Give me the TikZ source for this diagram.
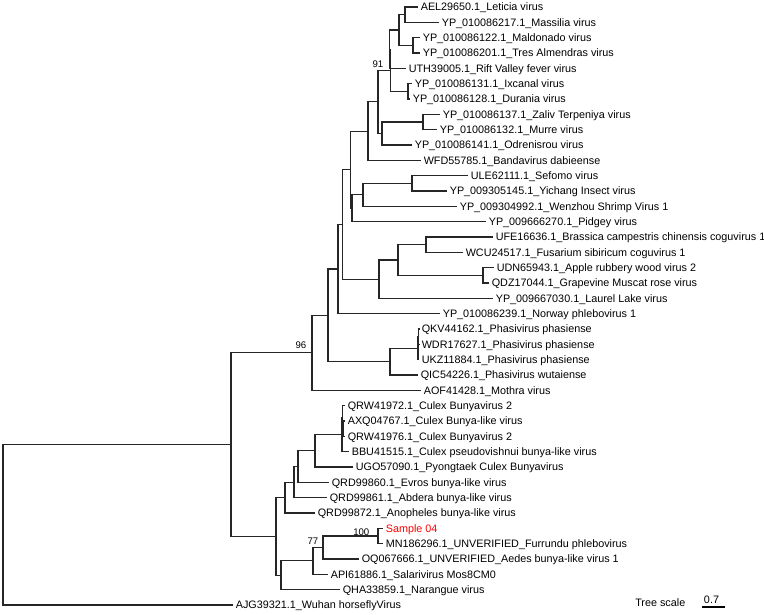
\documentclass[tikz,border=0pt]{standalone}
\usepackage{fontspec}
\setmainfont{Liberation Sans}
\begin{document}
\begin{tikzpicture}[x=1pt,y=-1pt,
  br/.style={draw=black!85, line width=1.1pt},
  lf/.style={anchor=west, inner xsep=2.6pt, inner ysep=0pt, text height=7.8pt, text depth=0pt, font=\fontsize{10.8}{12}\selectfont},
  bs/.style={anchor=east, inner sep=0pt, text height=6.8pt, text depth=0pt, font=\fontsize{9.6}{11}\selectfont}]
\useasboundingbox[fill=white] (0,0) rectangle (764,615);
% internal nodes
\coordinate (R) at (3,524.8);
\coordinate (A) at (231,444.6);
\coordinate (B) at (312,352.8);
\coordinate (E) at (328,315.3);
\coordinate (F) at (338,269.0);
\coordinate (G) at (342.5,224.4);
\coordinate (h350) at (350.5,169.7);
\coordinate (h368) at (368,131.1);
\coordinate (h378) at (378,101.9);
\coordinate (b390) at (390.6,70.2);
\coordinate (a390) at (389.4,49.2);
\coordinate (h399) at (399,30.0);
\coordinate (h405) at (405,14.7);
\coordinate (h413) at (413,45.3);
\coordinate (h408) at (408,91.3);
\coordinate (h382) at (382,133.5);
\coordinate (h423) at (423,122.0);
\coordinate (h352) at (352,208.2);
\coordinate (h363) at (363,194.8);
\coordinate (h412) at (412,183.3);
\coordinate (h379) at (379,279.2);
\coordinate (h398) at (398,260.0);
\coordinate (h426) at (426,244.6);
\coordinate (h483) at (483,275.3);
\coordinate (p390) at (390,361.6);
\coordinate (p418) at (418,348.2);
\coordinate (p419) at (418.6,336.7);
\coordinate (C) at (276,536.4);
\coordinate (c285) at (285,497.5);
\coordinate (c294) at (294,482.1);
\coordinate (c298) at (298,466.5);
\coordinate (c315) at (315,450.7);
\coordinate (c342) at (342,434.4);
\coordinate (c342b) at (342.7,417.1);
\coordinate (c343) at (343.4,428.6);
\coordinate (c281) at (281,575.3);
\coordinate (c313) at (313,560.9);
\coordinate (c323) at (323,547.5);
\coordinate (c378) at (378,536.0);
% leaves
\coordinate (L1) at (418,7.0);   \node[lf] (T1) at (L1) {AEL29650.1\_Leticia virus};
\coordinate (L2) at (439,22.3);  \node[lf] (T2) at (L2) {YP\_010086217.1\_Massilia virus};
\coordinate (L3) at (420,37.7);  \node[lf] (T3) at (L3) {YP\_010086122.1\_Maldonado virus};
\coordinate (L4) at (420,53.0);  \node[lf] (T4) at (L4) {YP\_010086201.1\_Tres Almendras virus};
\coordinate (L5) at (406,68.3);  \node[lf] (T5) at (L5) {UTH39005.1\_Rift Valley fever virus};
\coordinate (L6) at (412,83.7);  \node[lf] (T6) at (L6) {YP\_010086131.1\_Ixcanal virus};
\coordinate (L7) at (410,99.0);  \node[lf] (T7) at (L7) {YP\_010086128.1\_Durania virus};
\coordinate (L8) at (440,114.3); \node[lf] (T8) at (L8) {YP\_010086137.1\_Zaliv Terpeniya virus};
\coordinate (L9) at (437,129.6); \node[lf] (T9) at (L9) {YP\_010086132.1\_Murre virus};
\coordinate (L10) at (412,145.0); \node[lf] (T10) at (L10) {YP\_010086141.1\_Odrenisrou virus};
\coordinate (L11) at (421,160.3); \node[lf] (T11) at (L11) {WFD55785.1\_Bandavirus dabieense};
\coordinate (L12) at (468,175.6); \node[lf] (T12) at (L12) {ULE62111.1\_Sefomo virus};
\coordinate (L13) at (447,191.0); \node[lf] (T13) at (L13) {YP\_009305145.1\_Yichang Insect virus};
\coordinate (L14) at (457,206.3); \node[lf] (T14) at (L14) {YP\_009304992.1\_Wenzhou Shrimp Virus 1};
\coordinate (L15) at (486,221.6); \node[lf] (T15) at (L15) {YP\_009666270.1\_Pidgey virus};
\coordinate (L16) at (493,237.0); \node[lf] (T16) at (L16) {UFE16636.1\_Brassica campestris chinensis coguvirus 1};
\coordinate (L17) at (463,252.3); \node[lf] (T17) at (L17) {WCU24517.1\_Fusarium sibiricum coguvirus 1};
\coordinate (L18) at (494,267.6); \node[lf] (T18) at (L18) {UDN65943.1\_Apple rubbery wood virus 2};
\coordinate (L19) at (489,283.0); \node[lf] (T19) at (L19) {QDZ17044.1\_Grapevine Muscat rose virus};
\coordinate (L20) at (493,298.3); \node[lf] (T20) at (L20) {YP\_009667030.1\_Laurel Lake virus};
\coordinate (L21) at (440,313.6); \node[lf] (T21) at (L21) {YP\_010086239.1\_Norway phlebovirus 1};
\coordinate (L22) at (419,329.0); \node[lf] (T22) at (L22) {QKV44162.1\_Phasivirus phasiense};
\coordinate (L23) at (419,344.3); \node[lf] (T23) at (L23) {WDR17627.1\_Phasivirus phasiense};
\coordinate (L24) at (419,359.6); \node[lf] (T24) at (L24) {UKZ11884.1\_Phasivirus phasiense};
\coordinate (L25) at (418,375.0); \node[lf] (T25) at (L25) {QIC54226.1\_Phasivirus wutaiense};
\coordinate (L26) at (421,390.3); \node[lf] (T26) at (L26) {AOF41428.1\_Mothra virus};
\coordinate (L27) at (345,405.6); \node[lf] (T27) at (L27) {QRW41972.1\_Culex Bunyavirus 2};
\coordinate (L28) at (345,421.0); \node[lf] (T28) at (L28) {AXQ04767.1\_Culex Bunya-like virus};
\coordinate (L29) at (345,436.3); \node[lf] (T29) at (L29) {QRW41976.1\_Culex Bunyavirus 2};
\coordinate (L30) at (349,451.6); \node[lf] (T30) at (L30) {BBU41515.1\_Culex pseudovishnui bunya-like virus};
\coordinate (L31) at (353,467.0); \node[lf] (T31) at (L31) {UGO57090.1\_Pyongtaek Culex Bunyavirus};
\coordinate (L32) at (329,482.3); \node[lf] (T32) at (L32) {QRD99860.1\_Evros bunya-like virus};
\coordinate (L33) at (327,497.6); \node[lf] (T33) at (L33) {QRD99861.1\_Abdera bunya-like virus};
\coordinate (L34) at (315,513.0); \node[lf] (T34) at (L34) {QRD99872.1\_Anopheles bunya-like virus};
\coordinate (L35) at (383,528.3); \node[lf, text=red] (T35) at (L35) {Sample 04};
\coordinate (L36) at (383,543.6); \node[lf] (T36) at (L36) {MN186296.1\_UNVERIFIED\_Furrundu phlebovirus};
\coordinate (L37) at (359,559.0); \node[lf] (T37) at (L37) {OQ067666.1\_UNVERIFIED\_Aedes bunya-like virus 1};
\coordinate (L38) at (328,574.3); \node[lf] (T38) at (L38) {API61886.1\_Salarivirus Mos8CM0};
\coordinate (L39) at (340,589.6); \node[lf] (T39) at (L39) {QHA33859.1\_Narangue virus};
\coordinate (L40) at (233,605.0); \node[lf] (T40) at (L40) {AJG39321.1\_Wuhan horseflyVirus};
% branches
\draw[br] (R) |- (A) (R) |- (L40)
 (A) |- (B) (A) |- (C)
 (B) |- (E) (B) |- (L26)
 (E) |- (F) (E) |- (p390)
 (F) |- (G) (F) |- (L21)
 (G) |- (h350) (G) |- (h379)
 (h350) |- (h368) (h350) |- (h352)
 (h368) |- (h378) (h368) |- (L11)
 (h378) |- (b390) (h378) |- (h382)
 (b390) |- (a390) (b390) |- (h408)
 (a390) |- (h399) (a390) |- (L5)
 (h399) |- (h405) (h399) |- (h413)
 (h405) |- (L1) (h405) |- (L2)
 (h413) |- (L3) (h413) |- (L4)
 (h408) |- (L6) (h408) |- (L7)
 (h382) |- (h423) (h382) |- (L10)
 (h423) |- (L8) (h423) |- (L9)
 (h352) |- (h363) (h352) |- (L15)
 (h363) |- (h412) (h363) |- (L14)
 (h412) |- (L12) (h412) |- (L13)
 (h379) |- (h398) (h379) |- (L20)
 (h398) |- (h426) (h398) |- (h483)
 (h426) |- (L16) (h426) |- (L17)
 (h483) |- (L18) (h483) |- (L19)
 (p390) |- (p418) (p390) |- (L25)
 (p418) |- (p419) (p418) |- (L24)
 (p419) |- (L22) (p419) |- (L23)
 (C) |- (c285) (C) |- (c281)
 (c285) |- (c294) (c285) |- (L34)
 (c294) |- (c298) (c294) |- (L33)
 (c298) |- (c315) (c298) |- (L32)
 (c315) |- (c342) (c315) |- (L31)
 (c342) |- (c342b) (c342) |- (L30)
 (c342b) |- (L27) (c342b) |- (c343)
 (c343) |- (L28) (c343) |- (L29)
 (c281) |- (c313) (c281) |- (L39)
 (c313) |- (c323) (c313) |- (L38)
 (c323) |- (c378) (c323) |- (L37)
 (c378) |- (L35) (c378) |- (L36);
% bootstrap values
\node[bs] (bs91) at (383.5,64.5) {91};
\node[bs] (bs96) at (306.5,345.5) {96};
\node[bs] (bs77) at (318.5,541.5) {77};
\node[bs] (bs100) at (369.5,532.5) {100};
% tree scale
\node[lf, anchor=east, inner xsep=0pt] (ts) at (685.5,603) {Tree scale};
\coordinate (s1) at (702,607.2);
\coordinate (s2) at (725,607.2);
\draw[line width=1.6pt] (s1) -- (s2);
\node[lf, anchor=center, inner xsep=0pt] (sv) at (711.5,599.5) {0.7};
\end{tikzpicture}
\end{document}
